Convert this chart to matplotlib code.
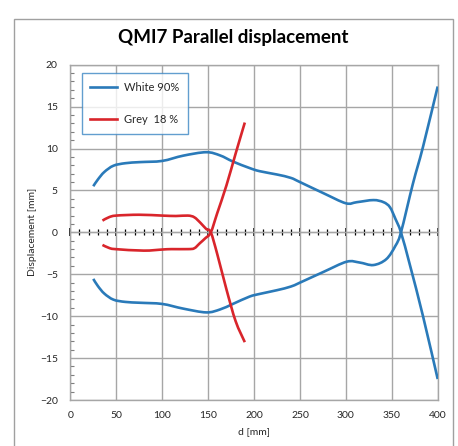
import matplotlib
matplotlib.use("Agg")
import matplotlib.pyplot as plt
from matplotlib.patches import Rectangle, PathPatch
from matplotlib.path import Path
from matplotlib.lines import Line2D
from matplotlib.ticker import MultipleLocator, NullFormatter
import numpy as np

plt.rcParams['font.family'] = ['Lato', 'DejaVu Sans']

# White 90% — branch starting above zero
white_a_d = [25, 30, 37, 47, 60, 76, 100, 123, 148, 163, 177, 195, 206, 225, 240, 250, 276, 300, 312, 330, 341, 348, 354, 360, 370, 384, 400]
white_a_v = [5.5, 6.3, 7.2, 7.95, 8.25, 8.38, 8.52, 9.15, 9.56, 9.18, 8.45, 7.68, 7.3, 6.9, 6.5, 6.0, 4.65, 3.47, 3.6, 3.85, 3.6, 3.0, 1.6, 0.0, -4.0, -10.0, -17.5]
# White 90% — branch starting below zero
white_b_d = [25, 30, 37, 47, 60, 76, 100, 123, 148, 163, 177, 195, 206, 225, 240, 250, 276, 301, 315, 330, 344, 354, 360, 373, 384, 400]
white_b_v = [-5.55, -6.4, -7.3, -8.03, -8.3, -8.4, -8.54, -9.1, -9.55, -9.2, -8.54, -7.67, -7.35, -6.9, -6.47, -6.0, -4.7, -3.5, -3.6, -3.9, -3.2, -1.6, 0.0, 5.8, 10.2, 17.4]

# Grey 18 % — branch starting above zero
grey_a_d = [35, 42, 50, 75, 100, 115, 128, 135, 142, 148, 153, 160, 170, 180, 190]
grey_a_v = [1.4, 1.8, 2.0, 2.1, 2.0, 1.95, 2.0, 1.8, 1.1, 0.4, 0.0, -2.6, -6.8, -10.6, -13.1]
# Grey 18 % — branch starting below zero
grey_b_d = [35, 42, 49, 80, 100, 110, 128, 135, 141, 147, 153, 160, 170, 180, 190]
grey_b_v = [-1.5, -1.85, -2.0, -2.18, -2.05, -2.0, -2.0, -1.9, -1.3, -0.7, 0.0, 2.3, 5.6, 9.4, 13.1]

x_ticks = [0, 50, 100, 150, 200, 250, 300, 350, 400]
y_ticks = [-20, -15, -10, -5, 0, 5, 10, 15, 20]

BLUE = '#2a7ab9'
RED = '#d9252b'
GRID = '#a6a6a6'
TXT = '#262626'


def smooth_path(xs, ys):
    """Smoothed-line rendering (Catmull-Rom as cubic Bezier) through the data points."""
    p = np.column_stack([xs, ys]).astype(float)
    n = len(p)
    verts = [p[0]]
    codes = [Path.MOVETO]
    for i in range(n - 1):
        p0 = p[i - 1] if i > 0 else p[i]
        p1 = p[i]
        p2 = p[i + 1]
        p3 = p[i + 2] if i + 2 < n else p[i + 1]
        c1 = p1 + (p2 - p0) / 6.0
        c2 = p2 - (p3 - p1) / 6.0
        verts += [c1, c2, p2]
        codes += [Path.CURVE4] * 3
    return Path(verts, codes)


fig = plt.figure(figsize=(4.58, 4.46), dpi=100)
W, H = 458, 446
ax = fig.add_axes([70.3 / W, 1 - 400 / H, (437.7 - 70.3) / W, (400 - 64.7) / H])

# outer chart frame
fig.patches.append(Rectangle((13.5 / W, -0.05), (453 - 13.5) / W, 1 - 19 / H + 0.05,
                             transform=fig.transFigure, fill=False, edgecolor='#a0a0a0',
                             linewidth=1.0, clip_on=False))

lw = 1.9
for xs, ys, c in [(white_a_d, white_a_v, BLUE), (white_b_d, white_b_v, BLUE),
                  (grey_a_d, grey_a_v, RED), (grey_b_d, grey_b_v, RED)]:
    ax.add_patch(PathPatch(smooth_path(xs, ys), fill=False, edgecolor=c, linewidth=lw,
                           capstyle='butt', zorder=3))

ax.set_xlim(0, 400)
ax.set_ylim(-20, 20)
ax.set_xticks(x_ticks)
ax.set_yticks(y_ticks)
ax.yaxis.set_minor_locator(MultipleLocator(1))
ax.grid(True, which='major', color=GRID, linewidth=1.0)
ax.set_axisbelow(True)
for s in ax.spines.values():
    s.set_color(GRID)
    s.set_linewidth(1.0)

ax.tick_params(axis='x', which='both', length=0, labelsize=7.5, labelcolor=TXT, pad=8)
ax.tick_params(axis='y', which='major', length=0, labelsize=7.5, labelcolor=TXT, pad=9)
ax.tick_params(axis='y', which='minor', direction='in', length=3, color='#7f7f7f', width=0.8)

# zero axis with cross ticks
sec = ax.secondary_xaxis(0.5)
sec.spines['bottom'].set_color('black')
sec.spines['bottom'].set_linewidth(1.4)
sec.set_xticks(x_ticks)
sec.xaxis.set_minor_locator(MultipleLocator(10))
sec.xaxis.set_major_formatter(NullFormatter())
sec.xaxis.set_minor_formatter(NullFormatter())
sec.tick_params(axis='x', which='major', direction='inout', length=6, width=1.2, color='black',
                labelbottom=False, labeltop=False)
sec.tick_params(axis='x', which='minor', direction='inout', length=5, width=0.9, color='black',
                labelbottom=False, labeltop=False)

ax.set_xlabel('d [mm]', fontsize=7.5, color=TXT, labelpad=5)
ax.set_ylabel('Displacement [mm]', fontsize=7.5, color=TXT)
ax.yaxis.set_label_coords((37 - 70.3) / (437.7 - 70.3), 0.5)

fig.text(233 / W, 1 - 37 / H, 'QMI7 Parallel displacement', ha='center', va='center',
         fontsize=13.5, fontweight='bold', color='black')

handles = [Line2D([], [], color=BLUE, lw=lw), Line2D([], [], color=RED, lw=lw)]
leg = ax.legend(handles, ['White 90%', 'Grey  18 %'], loc='upper left',
                bbox_to_anchor=((81.7 - 70.3) / (437.7 - 70.3), 1 - (73.3 - 64.7) / (400 - 64.7)),
                fontsize=8, frameon=True, fancybox=False, borderpad=0.75, labelspacing=1.95,
                handlelength=2.4, handletextpad=0.7, borderaxespad=0.0)
leg.get_frame().set_edgecolor('#3b86c4')
leg.get_frame().set_linewidth(1.0)
for t in leg.get_texts():
    t.set_color(TXT)

fig.savefig('out.png', dpi=100)
